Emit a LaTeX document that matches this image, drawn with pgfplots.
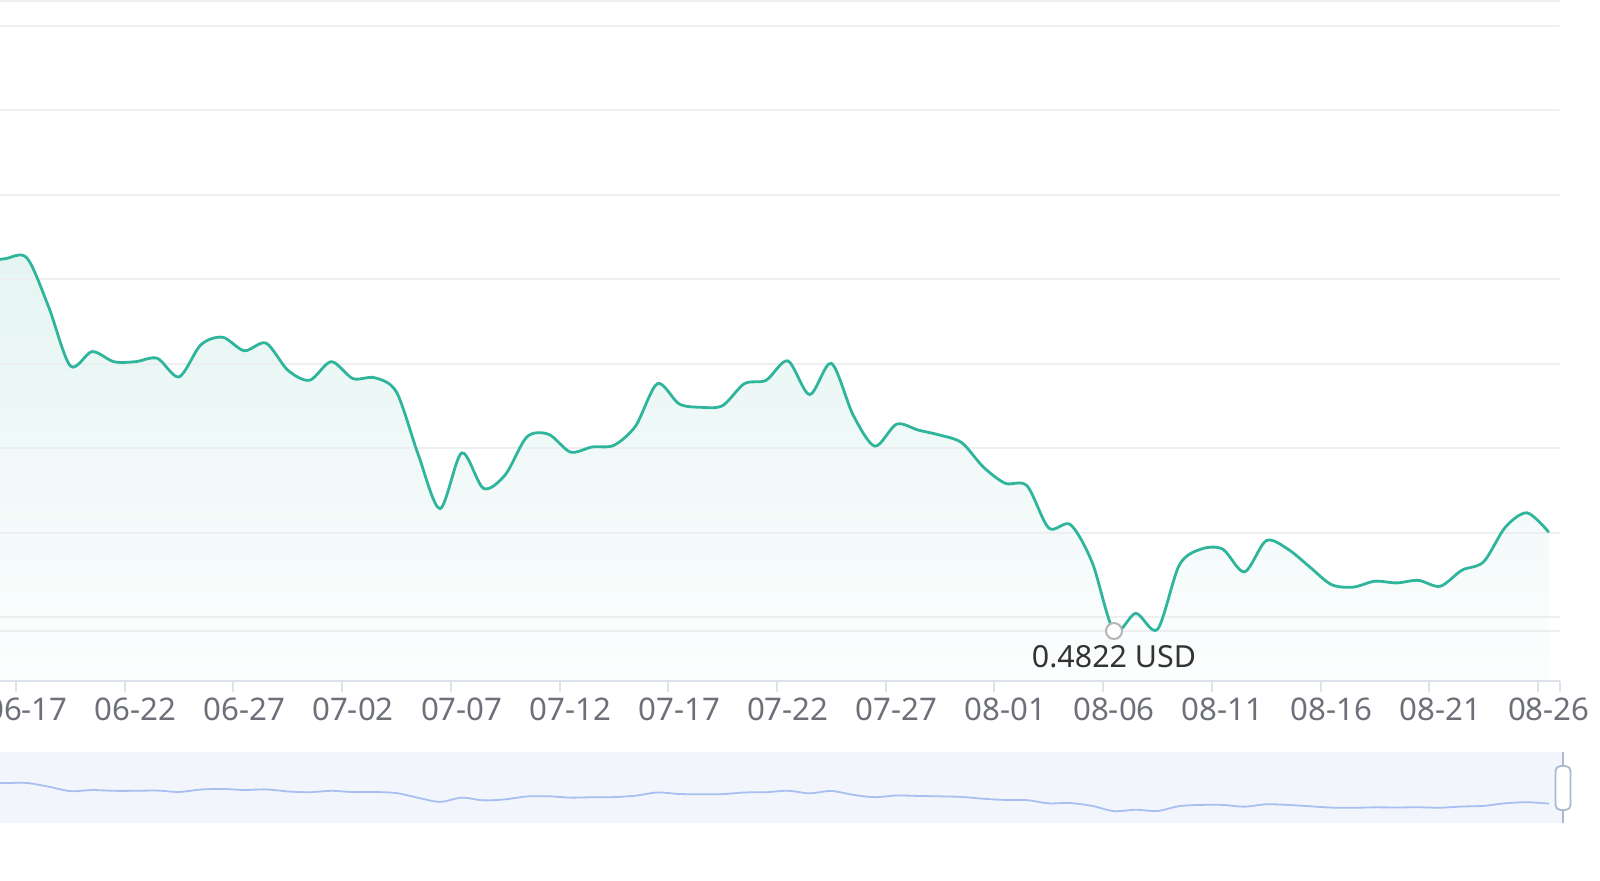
\documentclass[border=0pt]{standalone}
\usepackage{fontspec}
\setmainfont{Noto Sans}
\usepackage{pgfplots}
\usepackage{pgfplotstable}
\pgfplotsset{compat=1.18}
\definecolor{linecol}{HTML}{2EB59C}
\definecolor{areatop}{HTML}{E5F5F2}
\definecolor{areabot}{HTML}{FCFEFE}
\definecolor{gridcol}{HTML}{ECEEF2}
\definecolor{axiscol}{HTML}{DCE1EC}
\definecolor{labelcol}{HTML}{6E7079}
\definecolor{markcol}{HTML}{B4B4B4}
\definecolor{textdark}{HTML}{333333}
\definecolor{sliderbg}{HTML}{F2F5FC}
\definecolor{shadowcol}{HTML}{A8BFF0}
\definecolor{handlecol}{HTML}{ACB8D1}

\pgfplotstableread{
d v
-2 0.5259
-1 0.5263
0 0.5264
1 0.5206
2 0.5136
3 0.5153
4 0.5141
5 0.5141
6 0.5145
7 0.5123
8 0.5161
9 0.5170
10 0.5154
11 0.5163
12 0.5131
13 0.5119
14 0.5141
15 0.5121
16 0.5122
17 0.5105
18 0.5031
19 0.4967
20 0.5033
21 0.4991
22 0.5007
23 0.5052
24 0.5055
25 0.5034
26 0.5040
27 0.5042
28 0.5065
29 0.5115
30 0.5091
31 0.5087
32 0.5089
33 0.5115
34 0.5119
35 0.5142
36 0.5102
37 0.5139
38 0.5078
39 0.5041
40 0.5067
41 0.5060
42 0.5054
43 0.5045
44 0.5016
45 0.4997
46 0.4994
47 0.4944
48 0.4948
49 0.4903
50 0.4822
51 0.4843
52 0.4824
53 0.4900
54 0.4919
55 0.4919
56 0.4892
57 0.4929
58 0.4919
59 0.4898
60 0.4877
61 0.4874
62 0.4881
63 0.4879
64 0.4882
65 0.4875
66 0.4894
67 0.4904
68 0.4945
69 0.4962
70 0.4939
}\pricedata

\begin{document}
\begin{tikzpicture}
% y axis shows the price relative to the axis floor 0.47628 USD
\begin{axis}[
  set layers,
  at={(0pt,99.5pt)}, anchor=south west, scale only axis,
  width=779.85pt, height=340.5pt,
  xmin=-1.236, xmax=70.5, ymin=0, ymax=0.08066,
  axis x line*=bottom, axis y line*=left,
  axis line style={draw=axiscol, line width=1pt},
  y axis line style={draw=none},
  xtick={-0.5,4.5,...,69.5,70.5},
  xticklabels={},
  major tick length=5.5pt, tick align=outside,
  tick style={draw=axiscol, line width=1pt},
  extra x ticks={0,5,...,70},
  extra x tick labels={06-17,06-22,06-27,07-02,07-07,07-12,07-17,07-22,07-27,08-01,08-06,08-11,08-16,08-21,08-26},
  extra x tick style={tick style={draw=none}},
  xticklabel style={font=\fontsize{15.6}{18}\selectfont, text=labelcol, anchor=base, yshift=-14pt},
  ytick=\empty,
]
\addplot[on layer=axis background, draw=none, top color=areatop, bottom color=areabot, smooth, tension=0.5] table[x=d, y expr=\thisrow{v}-0.47628]{\pricedata} \closedcycle;
\pgfplotsinvokeforeach{0.00592,0.00758,0.01758,0.02758,0.03758,0.04758,0.05758,0.06758,0.07758,0.08052}{
  \draw[gridcol, line width=1pt] (axis cs:-2,#1) -- (axis cs:71,#1);
}
\addplot[smooth, tension=0.5, draw=linecol, line width=1.4pt] table[x=d, y expr=\thisrow{v}-0.47628]{\pricedata};
\addplot[only marks, mark=*, mark size=4pt, mark options={fill=white, draw=markcol, line width=1pt}] coordinates {(50,0.00592)};
\node[anchor=base, font=\fontsize{15.2}{18}\selectfont, text=textdark, yshift=-18pt] at (axis cs:50,0.00592) {0.4822 USD};
\end{axis}

\begin{axis}[
  at={(0pt,28.5pt)}, anchor=south west, scale only axis,
  width=781.5pt, height=35.5pt,
  xmin=-1.236, xmax=70.65, ymin=0.46346, ymax=0.57514,
  hide axis, clip mode=individual,
]
\fill[sliderbg] (rel axis cs:0,0) rectangle (rel axis cs:1,1);
\addplot[smooth, tension=0.5, draw=shadowcol, line width=0.9pt] table[x=d,y=v]{\pricedata};
\draw[handlecol, line width=0.9pt] (rel axis cs:1,0) -- (rel axis cs:1,1);
\filldraw[fill=white, draw=handlecol, line width=0.9pt, rounded corners=2.5pt] ([xshift=-3.75pt]rel axis cs:1,0.183) rectangle ([xshift=3.75pt]rel axis cs:1,0.803);
\end{axis}
\pgfresetboundingbox
\useasboundingbox (0,0) rectangle (800pt,440pt);
\end{tikzpicture}
\end{document}
